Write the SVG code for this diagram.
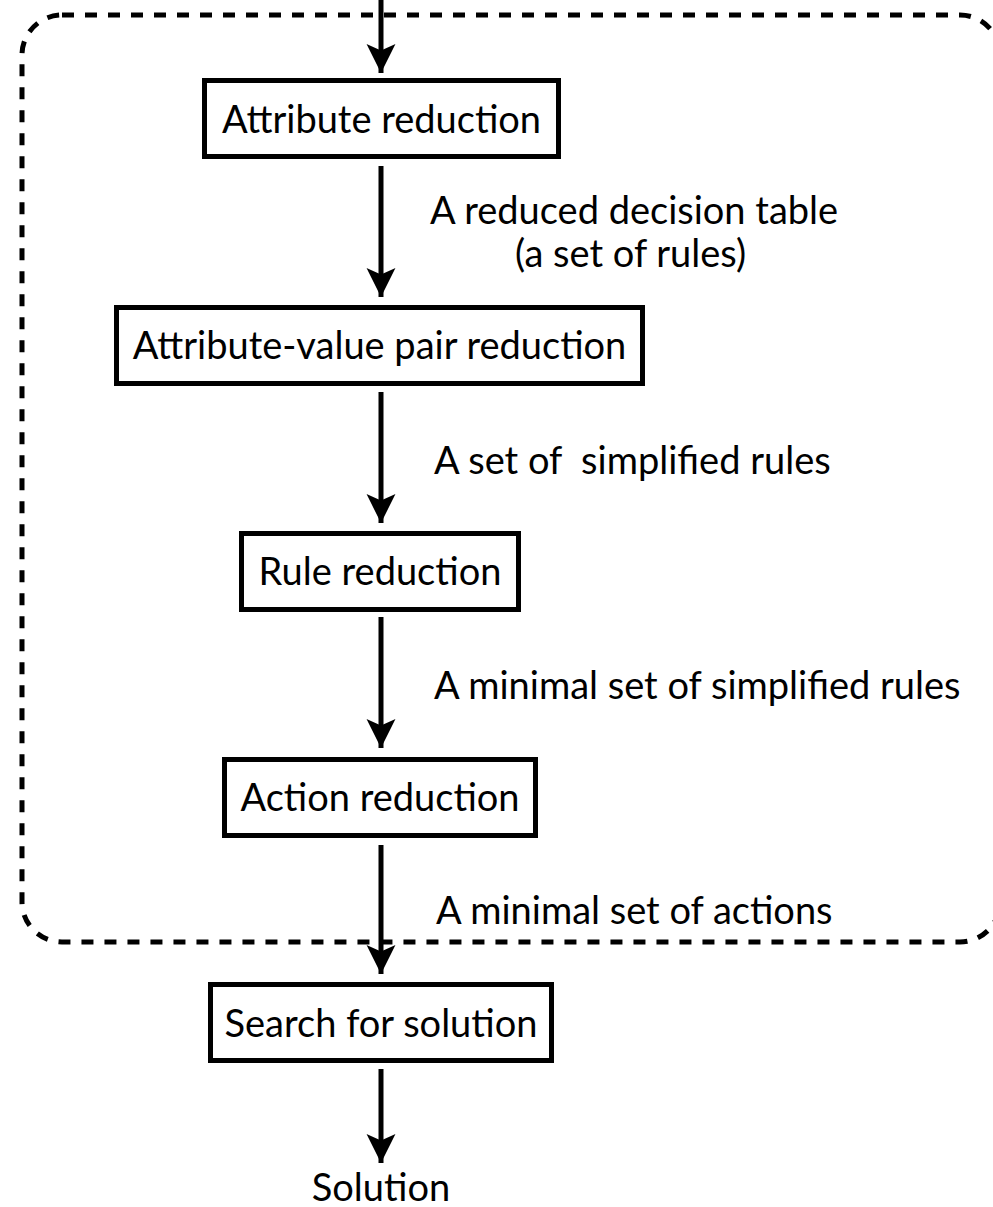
<svg xmlns="http://www.w3.org/2000/svg" width="993" height="1207" viewBox="0 0 993 1207">
  <style>
    text { font-family: Lato, "Open Sans", "DejaVu Sans", sans-serif; font-size: 38px; fill: #000; white-space: pre; }
    .box { fill: #fff; stroke: #000; stroke-width: 5; }
    .mid { text-anchor: middle; }
    .edge { stroke: #000; stroke-width: 5; fill: none; }
    .frame { fill: none; stroke: #000; stroke-width: 5; stroke-dasharray: 12 11; }
  </style>
  <defs>
    <marker id="head" markerUnits="userSpaceOnUse" markerWidth="30" markerHeight="30" viewBox="0 0 28 28" refX="27" refY="14" orient="auto">
      <path d="M0,0.5 L27,14 L0,27.5 L6,14 Z" fill="#000"/>
    </marker>
  </defs>

  <!-- dashed boundary of the reduction stage -->
  <rect class="frame" x="22" y="15" width="978" height="927" rx="40" ry="40"/>

  <!-- connectors -->
  <g id="connectors">
    <line class="edge" x1="381" y1="0" x2="381" y2="73" marker-end="url(#head)"/>
    <line class="edge" x1="381" y1="166" x2="381" y2="297" marker-end="url(#head)"/>
    <line class="edge" x1="381" y1="392" x2="381" y2="523" marker-end="url(#head)"/>
    <line class="edge" x1="381" y1="617" x2="381" y2="748" marker-end="url(#head)"/>
    <line class="edge" x1="381" y1="845" x2="381" y2="974" marker-end="url(#head)"/>
    <line class="edge" x1="381" y1="1069" x2="381" y2="1163" marker-end="url(#head)"/>
    <text x="430" y="224">A reduced decision table</text>
    <text x="515" y="267">(a set of rules)</text>
    <text x="434" y="474">A set of  simplified rules</text>
    <text x="434" y="699">A minimal set of simplified rules</text>
    <text x="436" y="924">A minimal set of actions</text>
  </g>

  <g id="attribute-reduction">
    <rect class="box" x="204.5" y="80.5" width="354" height="76"/>
    <text class="mid" x="381.5" y="133">Attribute reduction</text>
  </g>

  <g id="attribute-value-pair-reduction">
    <rect class="box" x="116.5" y="307.5" width="526" height="76"/>
    <text class="mid" x="379.5" y="359">Attribute-value pair reduction</text>
  </g>

  <g id="rule-reduction">
    <rect class="box" x="241.5" y="533.5" width="277" height="76"/>
    <text class="mid" x="380" y="585">Rule reduction</text>
  </g>

  <g id="action-reduction">
    <rect class="box" x="224.5" y="759.5" width="311" height="76"/>
    <text class="mid" x="380" y="811">Action reduction</text>
  </g>

  <g id="search-for-solution">
    <rect class="box" x="210.5" y="984.5" width="341" height="76"/>
    <text class="mid" x="381" y="1037">Search for solution</text>
  </g>

  <g id="solution">
    <text class="mid" x="381" y="1201">Solution</text>
  </g>
</svg>
